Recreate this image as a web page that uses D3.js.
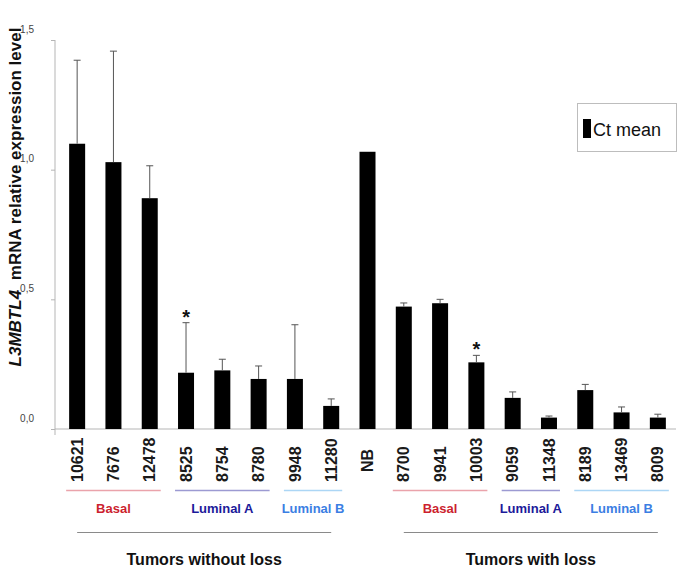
<!DOCTYPE html>
<html>
<head>
<meta charset="utf-8">
<script src="https://cdn.jsdelivr.net/npm/d3@7"></script>
<style>
  html, body { margin: 0; padding: 0; background: #fff; }
  svg { display: block; font-family: Arial, "Liberation Sans", sans-serif; }
</style>
</head>
<body>
<svg id="chart" width="685" height="579"></svg>
<script>
// ---- data ----
const samples = ["10621","7676","12478","8525","8754","8780","9948","11280","NB",
                 "8700","9941","10003","9059","11348","8189","13469","8009"];
const ctMean  = [1.100,1.029,0.890,0.217,0.226,0.193,0.193,0.089,1.069,
                 0.472,0.485,0.257,0.120,0.044,0.150,0.064,0.044];
const ctErr   = [0.322,0.428,0.125,0.193,0.043,0.050,0.209,0.027,0,
                 0.014,0.015,0.027,0.023,0.006,0.022,0.021,0.013];
const significant = ["8525","10003"];
const yTicks = [0, 0.5, 1.0, 1.5];
const subtypeNames  = ["Basal","Luminal A","Luminal B","Basal","Luminal A","Luminal B"];
const subtypeFirst  = ["10621","8525","9948","8700","9059","8189"];
const subtypeLast   = ["12478","8780","11280","10003","11348","8009"];
const subtypeLine   = ["#eaa3ab","#9c9ad2","#acd6f5","#eaa3ab","#9c9ad2","#acd6f5"];
const subtypeText   = ["#cc1f2f","#1c1a9a","#3b7ee3","#cc1f2f","#1c1a9a","#3b7ee3"];
const statusNames = ["Tumors without loss","Tumors with loss"];
const statusFirst = ["10621","8700"];
const statusLast  = ["11280","8009"];
const legendLabel = "Ct mean";

// ---- chart ----
const svg = d3.select("#chart");
const x = d3.scaleBand().domain(samples).range([59, 676]).paddingInner(0.559).paddingOuter(0.2795);
const y = d3.scaleLinear().domain([0, 1.5]).range([429, 40]);
const fmt = d3.format(".1f");

// y axis
const yAxis = svg.append("g").attr("transform", "translate(55,0)")
  .call(d3.axisLeft(y).tickValues(yTicks).tickSize(4).tickFormat(d => fmt(d).replace(".", ",")));
yAxis.select(".domain").remove();
yAxis.selectAll(".tick line").attr("stroke", "#b5b5b5");
yAxis.selectAll(".tick text").attr("x", -21).attr("dy", "-8").attr("fill", "#444")
  .attr("font-size", 10).attr("font-family", "Arial, 'Liberation Sans', sans-serif");
svg.append("line").attr("x1", 55).attr("x2", 55).attr("y1", y(1.5)).attr("y2", y(0) + 6)
  .attr("stroke", "#b5b5b5");
// x axis
svg.append("line").attr("x1", 55).attr("x2", 676).attr("y1", y(0)).attr("y2", y(0))
  .attr("stroke", "#b5b5b5");

// bars
svg.append("g").selectAll("rect").data(samples).join("rect")
  .attr("x", d => x(d)).attr("width", x.bandwidth())
  .attr("y", (d, i) => y(ctMean[i])).attr("height", (d, i) => y(0) - y(ctMean[i]))
  .attr("fill", "#000");

// error bars
const eg = svg.append("g").attr("stroke", "#555").attr("stroke-width", 1);
samples.forEach((s, i) => {
  if (!ctErr[i]) return;
  const cx = x(s) + x.bandwidth() / 2;
  eg.append("line").attr("x1", cx).attr("x2", cx).attr("y1", y(ctMean[i])).attr("y2", y(ctMean[i] + ctErr[i]));
  eg.append("line").attr("x1", cx - 3.5).attr("x2", cx + 3.5).attr("y1", y(ctMean[i] + ctErr[i])).attr("y2", y(ctMean[i] + ctErr[i]));
});

// significance stars
significant.forEach(s => {
  const i = samples.indexOf(s);
  svg.append("text").attr("x", x(s) + x.bandwidth() / 2).attr("y", y(ctMean[i] + ctErr[i]) + 1)
    .attr("text-anchor", "middle").attr("font-size", 20).attr("font-weight", "bold").attr("fill", "#111")
    .text("*");
});

// sample labels
svg.append("g").selectAll("text").data(samples).join("text")
  .attr("transform", d => `translate(${x(d) + x.bandwidth() / 2},${d === "NB" ? 472 : 482}) rotate(-90)`)
  .attr("dy", "0.35em").attr("text-anchor", "start")
  .attr("font-size", 16).attr("font-weight", "bold").attr("fill", "#1a1a1a")
  .text(d => d);

// subtype groups
subtypeNames.forEach((n, k) => {
  const x1 = x(subtypeFirst[k]) - 3, x2 = x(subtypeLast[k]) + x.bandwidth() + 3;
  svg.append("line").attr("x1", x1).attr("x2", x2).attr("y1", 490.5).attr("y2", 490.5)
    .attr("stroke", subtypeLine[k]).attr("stroke-width", 1.5);
  svg.append("text").attr("x", (x1 + x2) / 2).attr("y", 513).attr("text-anchor", "middle")
    .attr("font-size", 13).attr("font-weight", "bold").attr("fill", subtypeText[k]).text(n);
});

// status groups
statusNames.forEach((n, k) => {
  const x1 = x(statusFirst[k]) + x.bandwidth() / 2, x2 = x(statusLast[k]) + x.bandwidth() / 2;
  svg.append("line").attr("x1", x1).attr("x2", x2).attr("y1", 532.5).attr("y2", 532.5)
    .attr("stroke", "#8a8a8a").attr("stroke-width", 1);
  svg.append("text").attr("x", (x1 + x2) / 2).attr("y", 565).attr("text-anchor", "middle")
    .attr("font-size", 16).attr("font-weight", "bold").attr("fill", "#111").text(n);
});

// y title
const yt = svg.append("text").attr("transform", "translate(21,197) rotate(-90)")
  .attr("text-anchor", "middle").attr("font-size", 17).attr("font-weight", "bold").attr("fill", "#111");
yt.append("tspan").attr("font-style", "italic").text("L3MBTL4");
yt.append("tspan").attr("dx", 5).text(" mRNA relative expression level");

// legend
const lg = svg.append("g").attr("transform", "translate(577,103)");
lg.append("rect").attr("x", 0.5).attr("y", 0.5).attr("width", 99).attr("height", 48)
  .attr("fill", "#fff").attr("stroke", "#bdbdbd");
lg.append("rect").attr("x", 6).attr("y", 16).attr("width", 8).attr("height", 19).attr("fill", "#000");
lg.append("text").attr("x", 16).attr("y", 33).attr("font-size", 18).attr("fill", "#111").text(legendLabel);
</script>
</body>
</html>
